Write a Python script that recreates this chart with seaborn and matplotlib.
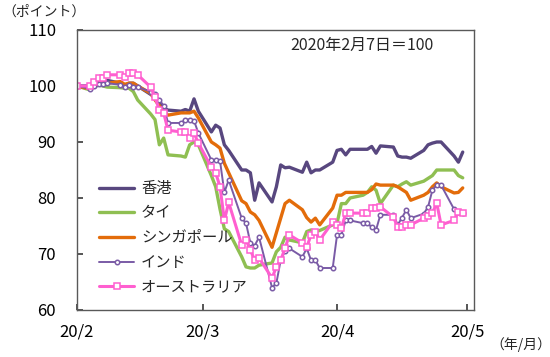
import pandas as pd
import numpy as np
import matplotlib
matplotlib.use("Agg")
import matplotlib.pyplot as plt
import seaborn as sns

# ---- data ----
dates = pd.bdate_range("2020-02-07", "2020-05-06")

hong_kong = [100, 100, 100.5, 101, 101, 101, 100.5, 100, 100.5, 100.5, 100, 98.5, 98, 97, 96, 95.7,
             95.5, 95.8, 95.5, 97.7, 95.5, 91.8, 93, 92.5, 89.5, 88.5, 85, 85, 84.5, 79.6, 82.7, 79.3, 82, 85.9, 85.4, 85.5, 84.6, 86.4,
             84.5, 85, 85, 86.4, 88.5, 88.7, 87.7, 88.7, 88.7, 88.7, 89.2, 88, 89.3, 89.1, 87.5, 87.3, 87.3, 87.1, 88.5, 89.5, 89.8, 90,
             90, 87.5, 86.4, 88.2]
thailand = [100, 99.3, 99.8, 100.2, 100, 99.8, 99.7, 99.6, 99.6, 99, 97.5, 95, 94, 89.5, 90.7, 87.7,
            87.5, 87.3, 89.5, 90, 89.5, 84, 82, 78, 74.5, 74, 69.5, 67.7, 67.5, 67.5, 68, 68.4, 70.4, 71.2, 73, 72.5, 72, 74,
            74.3, 74, 74.2, 75.2, 75.5, 79, 79, 80, 80.5, 81, 82, 81.4, 79, 82.3, 82, 82.5, 82.9, 82.3, 83, 83.5, 84, 85,
            85, 85, 84, 83.6]
singapore = [100, 99.5, 100, 100.5, 100.5, 100.5, 100.8, 100.3, 100.5, 100.5, 100, 98.7, 97.5, 96.5, 95.5, 94.8,
             95.2, 95.2, 95.2, 95.5, 94.3, 90, 89.5, 88.9, 86.2, 84.5, 79.5, 79, 77.5, 77, 76, 71.2, 73.8, 76.4, 79, 79.6, 77.9, 76.5,
             75.7, 76.4, 75.2, 78.2, 80.5, 80.5, 81, 81, 81, 81, 81.5, 82.5, 82.3, 82.3, 82, 81.5, 81, 79.6, 80.5, 81, 82, 82.7,
             82, 80.9, 81, 81.8]
india = [100, 99.5, 100, 100.3, 100.3, 100.5, 100.2, 99.8, 100.2, 99.8, 99.8, 99, 98.5, 97.5, 96.5, 93.4,
         93.4, 94, 94, 93.8, 91.6, 86.8, 86.8, 86.6, 81, 83.2, 76.4, 75.5, 72, 71.5, 73, 64, 64.8, 68.9, 70.5, 71, 69.5, 71,
         68.9, 68.9, 67.5, 67.5, 73.4, 73.4, 76, 76, 75.5, 75.5, 74.8, 74.3, 77, 77, 75.2, 76.5, 77.9, 76.4, 77.2, 78.4, 81.4, 82.3,
         82.3, 78, 77.5, 77.3]
australia = [100, 100, 100.7, 101.4, 101.5, 102, 102, 101.6, 102.3, 102.3, 102, 99.8, 98, 95.7, 95.2, 92.1,
             91.8, 91.8, 90.7, 91.6, 89.8, 85.5, 84.5, 82, 76, 79.2, 71.6, 72.5, 70.7, 68.9, 69.3, 65.7, 67.7, 68.9, 71, 73.4, 72, 71.2,
             73.4, 74, 72.5, 75.7, 75.2, 74.6, 77.3, 77.3, 77.3, 77.3, 78.2, 78.2, 78.4, 76.6, 74.8, 74.8, 75.2, 75.2, 76.4, 76.8, 77.3, 79.1,
             75.2, 76, 77.5, 77.3]

labels = ["香港", "タイ", "シンガポール", "インド", "オーストラリア"]
tick_dates = pd.to_datetime(["2020-02-07", "2020-03-07", "2020-04-07", "2020-05-07"])
tick_labels = ["20/2", "20/3", "20/4", "20/5"]

series = [hong_kong, thailand, singapore, india, australia]
colors = ["#58477f", "#8fbf52", "#e36c0a", "#7a5ba6", "#ff5fd0"]
widths = [2.4, 2.4, 2.4, 1.4, 2.2]
markers = [None, None, None, "o", "s"]
msizes = [0, 0, 0, 3.2, 4.8]

# ---- style ----
sns.set_theme(style="white")
plt.rcParams["font.family"] = ["Noto Sans CJK JP", "DejaVu Sans"]

fig = plt.figure(figsize=(5.5, 3.57), dpi=100)
ax = fig.add_axes([77 / 550, 1 - 310 / 357, 397 / 550, 280 / 357])

for vals, lab, col, lw, mk, ms in zip(series, labels, colors, widths, markers, msizes):
    df = pd.DataFrame({"date": dates, "value": vals})
    kw = {}
    if mk is not None:
        kw = dict(marker=mk, markersize=ms, markerfacecolor="white",
                  markeredgecolor=col, markeredgewidth=1.1)
    sns.lineplot(data=df, x="date", y="value", ax=ax, color=col, linewidth=lw,
                 label=lab, **kw)

ax.set_xlim(pd.Timestamp("2020-02-07"), pd.Timestamp("2020-02-07") + pd.Timedelta(days=91.6))
ax.set_ylim(60, 110)
ax.set_yticks([60, 70, 80, 90, 100, 110])
ax.set_xticks(tick_dates)
ax.set_xticklabels(tick_labels)
ax.set_xlabel("")
ax.set_ylabel("")
ax.tick_params(axis="both", direction="in", labelsize=12, colors="#404040",
               labelcolor="black")
ax.tick_params(axis="x", length=4, pad=10, bottom=True)
ax.tick_params(axis="y", length=4, pad=15, left=True)
for sp in ax.spines.values():
    sp.set_visible(True)
    sp.set_color("#595959")
    sp.set_linewidth(1.0)

ax.text(0.718, 0.946, "2020年2月7日＝100", transform=ax.transAxes,
        ha="center", va="center", fontsize=11.5)
fig.text(2 / 550, 1 - 12 / 357, "（ポイント）", ha="left", va="center", fontsize=10)
fig.text(521 / 550, 1 - 345 / 357, "（年/月）", ha="center", va="center", fontsize=10)

leg = ax.legend(loc="lower left", bbox_to_anchor=(0.04, 0.03), frameon=False,
                fontsize=11, handlelength=2.3, handletextpad=0.45, labelspacing=0.5,
                borderaxespad=0)

fig.savefig("out.png", dpi=100)
